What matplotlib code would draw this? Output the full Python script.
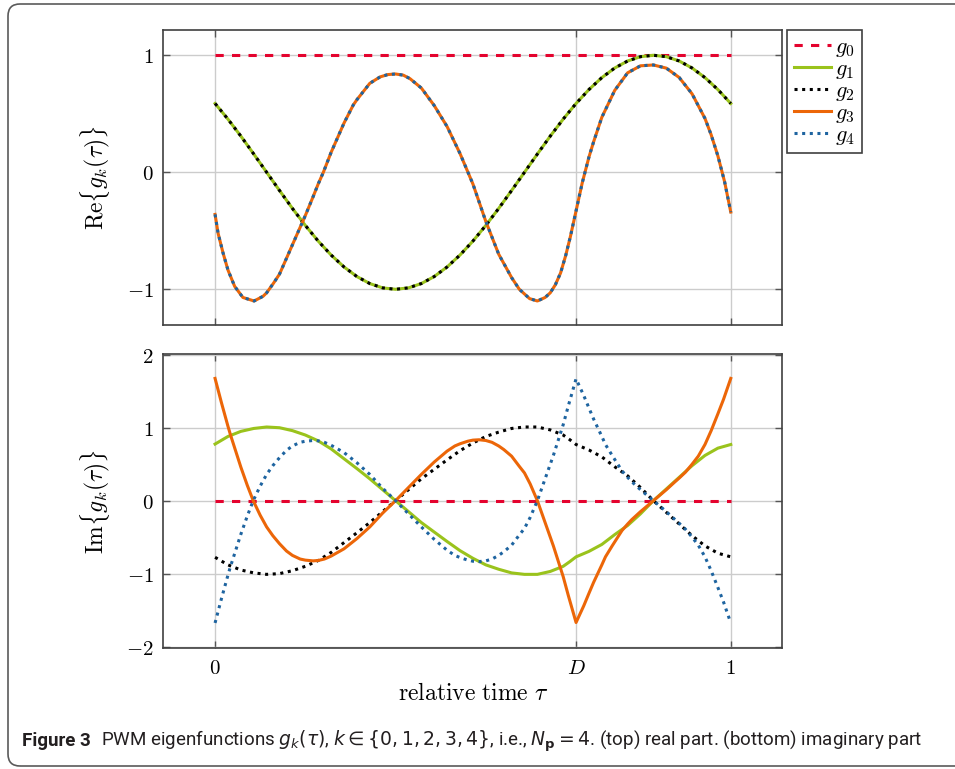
import matplotlib
matplotlib.use("Agg")
import matplotlib.pyplot as plt
from matplotlib.patches import FancyBboxPatch
from matplotlib.transforms import IdentityTransform

plt.rcParams['mathtext.fontset'] = 'cm'

D = 0.7

# g0: constant
tau_g0 = [0.0, 1.0]
re_g0 = [1.0, 1.0]
im_g0 = [0.0, 0.0]

# real part of g1 and g2 (the two curves lie on top of each other)
tau_re1 = [0.0, 0.025, 0.05, 0.075, 0.1, 0.125, 0.15, 0.175, 0.2, 0.225,
           0.25, 0.275, 0.3, 0.325, 0.35, 0.375, 0.4, 0.425, 0.45, 0.475,
           0.5, 0.525, 0.55, 0.575, 0.6, 0.625, 0.65, 0.675, 0.7, 0.725,
           0.75, 0.775, 0.8, 0.825, 0.85, 0.875, 0.9, 0.925, 0.95, 0.975, 1.0]
re_g1 = [0.588, 0.454, 0.309, 0.156, 0.0, -0.156, -0.309, -0.454, -0.588, -0.707,
         -0.809, -0.891, -0.951, -0.988, -1.0, -0.988, -0.951, -0.891, -0.809, -0.707,
         -0.588, -0.454, -0.309, -0.156, 0.0, 0.156, 0.309, 0.454, 0.588, 0.707,
         0.809, 0.891, 0.951, 0.988, 1.0, 0.988, 0.951, 0.891, 0.809, 0.707, 0.588]
re_g2 = [0.588, 0.454, 0.309, 0.156, 0.0, -0.156, -0.309, -0.454, -0.588, -0.707,
         -0.809, -0.891, -0.951, -0.988, -1.0, -0.988, -0.951, -0.891, -0.809, -0.707,
         -0.588, -0.454, -0.309, -0.156, 0.0, 0.156, 0.309, 0.454, 0.588, 0.707,
         0.809, 0.891, 0.951, 0.988, 1.0, 0.988, 0.951, 0.891, 0.809, 0.707, 0.588]

# real part of g3 and g4 (also on top of each other)
tau_re3 = [0.0, 0.0058, 0.0155, 0.025, 0.038, 0.054, 0.0757, 0.093, 0.1, 0.113,
           0.125, 0.132, 0.15, 0.175, 0.19, 0.2, 0.21, 0.225, 0.25, 0.268,
           0.275, 0.3, 0.32, 0.335, 0.35, 0.365, 0.378, 0.4, 0.425, 0.45,
           0.475, 0.5, 0.525, 0.55, 0.575, 0.59, 0.6, 0.61, 0.625, 0.64,
           0.65, 0.66, 0.67, 0.68, 0.689, 0.7, 0.712, 0.725, 0.734, 0.75,
           0.775, 0.8, 0.825, 0.85, 0.875, 0.9, 0.925, 0.95, 0.962, 0.975,
           0.988, 1.0]
re_g3 = [-0.36, -0.52, -0.69, -0.835, -0.975, -1.07, -1.10, -1.06, -1.03, -0.95,
         -0.87, -0.80, -0.62, -0.37, -0.21, -0.10, 0.0, 0.17, 0.42, 0.575,
         0.62, 0.76, 0.815, 0.835, 0.84, 0.83, 0.80, 0.72, 0.57, 0.39,
         0.16, -0.10, -0.42, -0.70, -0.90, -1.00, -1.04, -1.08, -1.10, -1.07,
         -1.03, -0.96, -0.86, -0.71, -0.55, -0.33, -0.09, 0.13, 0.26, 0.47,
         0.70, 0.85, 0.91, 0.917, 0.89, 0.81, 0.67, 0.46, 0.32, 0.14,
         -0.08, -0.34]
re_g4 = [-0.36, -0.52, -0.69, -0.835, -0.975, -1.07, -1.10, -1.06, -1.03, -0.95,
         -0.87, -0.80, -0.62, -0.37, -0.21, -0.10, 0.0, 0.17, 0.42, 0.575,
         0.62, 0.76, 0.815, 0.835, 0.84, 0.83, 0.80, 0.72, 0.57, 0.39,
         0.16, -0.10, -0.42, -0.70, -0.90, -1.00, -1.04, -1.08, -1.10, -1.07,
         -1.03, -0.96, -0.86, -0.71, -0.55, -0.33, -0.09, 0.13, 0.26, 0.47,
         0.70, 0.85, 0.91, 0.917, 0.89, 0.81, 0.67, 0.46, 0.32, 0.14,
         -0.08, -0.34]

# imaginary part of g1 and g2 (mirror images)
tau_im1 = [0.0, 0.025, 0.05, 0.075, 0.1, 0.125, 0.15, 0.175, 0.2, 0.225,
           0.25, 0.275, 0.3, 0.325, 0.35, 0.375, 0.4, 0.425, 0.45, 0.475,
           0.5, 0.525, 0.55, 0.575, 0.6, 0.625, 0.65, 0.675, 0.688, 0.7,
           0.71, 0.725, 0.75, 0.775, 0.8, 0.825, 0.85, 0.875, 0.9, 0.925,
           0.95, 0.975, 1.0]
im_g1 = [0.776, 0.88, 0.95, 0.99, 1.01, 1.0, 0.96, 0.90, 0.82, 0.71,
         0.575, 0.44, 0.30, 0.15, 0.0, -0.15, -0.30, -0.43, -0.56, -0.685,
         -0.79, -0.88, -0.94, -0.99, -1.01, -1.01, -0.97, -0.90, -0.835, -0.77,
         -0.74, -0.695, -0.60, -0.465, -0.34, -0.18, 0.0, 0.16, 0.32, 0.48,
         0.62, 0.72, 0.77]
im_g2 = [-0.776, -0.88, -0.95, -0.99, -1.01, -1.0, -0.96, -0.90, -0.82, -0.71,
         -0.575, -0.44, -0.30, -0.15, 0.0, 0.15, 0.30, 0.43, 0.56, 0.685,
         0.79, 0.88, 0.94, 0.99, 1.01, 1.01, 0.97, 0.90, 0.835, 0.77,
         0.74, 0.695, 0.60, 0.465, 0.34, 0.18, 0.0, -0.16, -0.32, -0.48,
         -0.62, -0.72, -0.77]

# imaginary part of g3 and g4 (mirror images)
tau_im3 = [0.0, 0.0125, 0.025, 0.03, 0.05, 0.0625, 0.074, 0.0875, 0.1, 0.112,
           0.125, 0.1385, 0.15, 0.165, 0.175, 0.19, 0.2, 0.212, 0.225, 0.25,
           0.275, 0.3, 0.325, 0.35, 0.375, 0.4, 0.425, 0.45, 0.465, 0.475,
           0.49, 0.5, 0.512, 0.525, 0.537, 0.55, 0.56, 0.575, 0.59, 0.6,
           0.611, 0.625, 0.64, 0.65, 0.656, 0.675, 0.685, 0.7, 0.715, 0.725,
           0.734, 0.75, 0.757, 0.77, 0.789, 0.8, 0.808, 0.825, 0.85, 0.875,
           0.892, 0.9, 0.912, 0.925, 0.937, 0.95, 0.962, 0.975, 0.986, 1.0]
im_g3 = [1.676, 1.34, 1.02, 0.90, 0.46, 0.21, 0.0, -0.20, -0.36, -0.48,
         -0.59, -0.69, -0.75, -0.80, -0.815, -0.825, -0.82, -0.80, -0.76, -0.66,
         -0.52, -0.36, -0.17, 0.0, 0.18, 0.36, 0.53, 0.68, 0.75, 0.78,
         0.815, 0.83, 0.835, 0.825, 0.80, 0.75, 0.70, 0.61, 0.47, 0.38,
         0.23, 0.0, -0.30, -0.50, -0.62, -1.04, -1.30, -1.67, -1.44, -1.27,
         -1.12, -0.88, -0.77, -0.62, -0.41, -0.32, -0.26, -0.15, 0.0, 0.15,
         0.26, 0.31, 0.39, 0.50, 0.61, 0.77, 0.96, 1.19, 1.39, 1.676]
im_g4 = [-1.676, -1.34, -1.02, -0.90, -0.46, -0.21, 0.0, 0.20, 0.36, 0.48,
         0.59, 0.69, 0.75, 0.80, 0.815, 0.825, 0.82, 0.80, 0.76, 0.66,
         0.52, 0.36, 0.17, 0.0, -0.18, -0.36, -0.53, -0.68, -0.75, -0.78,
         -0.815, -0.83, -0.835, -0.825, -0.80, -0.75, -0.70, -0.61, -0.47, -0.38,
         -0.23, 0.0, 0.30, 0.50, 0.62, 1.04, 1.30, 1.67, 1.44, 1.27,
         1.12, 0.88, 0.77, 0.62, 0.41, 0.32, 0.26, 0.15, 0.0, -0.15,
         -0.26, -0.31, -0.39, -0.50, -0.61, -0.77, -0.96, -1.19, -1.39, -1.676]

labels = [r'$g_0\;$', r'$g_1\;$', r'$g_2\;$', r'$g_3\;$', r'$g_4\;$']
colors = ['#e4032e', '#9ac31c', 'black', '#ec6608', '#1e64a0']
styles = [(0, (2.7, 2.7)), '-', (0, (1, 1.5)), '-', (0, (1, 1.5))]

re_data = [(tau_g0, re_g0), (tau_re1, re_g1), (tau_re1, re_g2), (tau_re3, re_g3), (tau_re3, re_g4)]
im_data = [(tau_g0, im_g0), (tau_im1, im_g1), (tau_im1, im_g2), (tau_im3, im_g3), (tau_im3, im_g4)]

fig = plt.figure(figsize=(9.55, 7.69), dpi=100)
ax1 = fig.add_axes([0.1712, 0.5774, 0.648, 0.3836])
ax2 = fig.add_axes([0.1712, 0.1573, 0.648, 0.3823])

for i in range(5):
    ax1.plot(re_data[i][0], re_data[i][1], color=colors[i], linestyle=styles[i],
             lw=2.2, label=labels[i], solid_joinstyle='round')
    ax2.plot(im_data[i][0], im_data[i][1], color=colors[i], linestyle=styles[i],
             lw=2.2, solid_joinstyle='round')

for ax in [ax1, ax2]:
    ax.set_xlim(-0.1, 1.1)
    ax.set_xticks([0, D, 1])
    ax.grid(True, color='#cccccc', lw=1)
    ax.set_axisbelow(True)
    ax.tick_params(direction='in', length=5, width=1, color='#555555',
                   top=True, right=True, labelsize=15, pad=7)
    for s in ax.spines.values():
        s.set_color('#404040')
        s.set_linewidth(1.2)

ax1.set_ylim(-1.305, 1.216)
ax1.set_yticks([-1, 0, 1])
ax1.set_yticklabels([r'$-1$', r'$0$', r'$1$'])
ax1.set_xticklabels([])
ax1.set_ylabel(r'$\mathrm{Re}\{g_k(\tau)\}$', fontsize=17)
ax1.yaxis.set_label_coords(-0.084, 0.5)

ax2.set_ylim(-2.02, 2.01)
ax2.set_yticks([-2, -1, 0, 1, 2])
ax2.set_yticklabels([r'$-2$', r'$-1$', r'$0$', r'$1$', r'$2$'])
ax2.set_xticklabels([r'$0$', r'$D$', r'$1$'])
ax2.set_ylabel(r'$\mathrm{Im}\{g_k(\tau)\}$', fontsize=17)
ax2.yaxis.set_label_coords(-0.084, 0.5)
ax2.set_xlabel(r'$\mathrm{relative\ time}\ \tau$', fontsize=17)
ax2.xaxis.set_label_coords(0.5, -0.112)

leg = ax1.legend(loc='upper left', bbox_to_anchor=(1.0075, 1.0), borderaxespad=0,
                 fontsize=16, handlelength=1.66, handletextpad=0.22, labelspacing=0.0,
                 borderpad=0.3, fancybox=False, framealpha=1)
leg.get_frame().set_edgecolor('#404040')
leg.get_frame().set_linewidth(1.2)

# rounded frame round the whole figure
frame = FancyBboxPatch((8, 3), 980, 762, boxstyle='round,pad=0,rounding_size=12',
                       transform=IdentityTransform(), fill=False,
                       edgecolor='#5a5a5a', lw=1.2)
fig.add_artist(frame)

# caption
t1 = fig.text(22 / 955, 0.03, 'Figure 3', fontsize=13.5, fontweight='bold',
              family='Roboto', va='baseline', color='#231f20')
bb = t1.get_window_extent(renderer=fig.canvas.get_renderer())
fig.text((bb.x1 + 10) / 955, 0.03,
         r'PWM eigenfunctions $g_k(\tau)$, $k \in \{0, 1, 2, 3, 4\}$, i.e., '
         r'$N_{\mathbf{p}} = 4$. (top) real part. (bottom) imaginary part',
         fontsize=13.5, family='Roboto', va='baseline', color='#231f20',
         math_fontfamily='dejavusans')

fig.savefig('out.png', dpi=100)
